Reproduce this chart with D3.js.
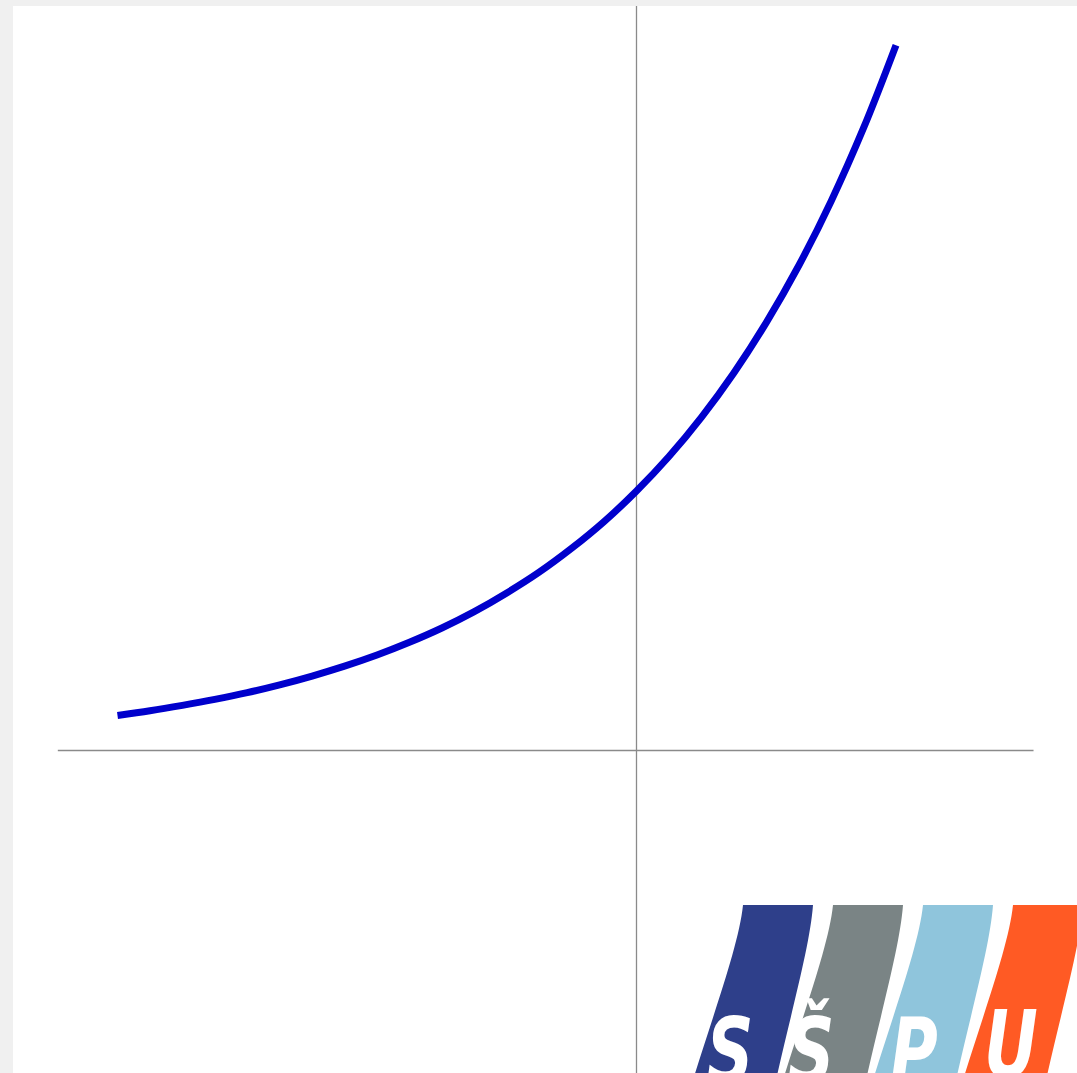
<!DOCTYPE html>
<html>
<head>
<meta charset="utf-8">
<script src="https://cdn.jsdelivr.net/npm/d3@7"></script>
<style>
  html, body { margin: 0; padding: 0; background: #f0f0f0; overflow: hidden; }
  svg { display: block; }
</style>
</head>
<body>
<script>
// ---- data (curve y = e^x) ----
const xValues = [-2, -1.875, -1.75, -1.625, -1.5, -1.375, -1.25, -1.125, -1, -0.875, -0.75, -0.625, -0.5,
                 -0.375, -0.25, -0.125, 0, 0.125, 0.25, 0.375, 0.5, 0.625, 0.75, 0.875, 1];
const yValues = [0.135, 0.153, 0.174, 0.197, 0.223, 0.253, 0.287, 0.325, 0.368, 0.417, 0.472, 0.535, 0.607,
                 0.687, 0.779, 0.882, 1, 1.133, 1.284, 1.455, 1.649, 1.868, 2.117, 2.399, 2.718];
const xAxisExtent = [-2.23, 1.53];
const yAxisExtent = [-1.4, 2.87];
const logoLetters = ["S", "Š", "P", "U"];
const logoColors = ["#2e3f8a", "#7a8485", "#8fc5dc", "#ff5a24"];

const W = 1077, H = 1073;
const svg = d3.select("body").append("svg").attr("width", W).attr("height", H);

svg.append("rect").attr("x", 0).attr("y", 0).attr("width", W).attr("height", H).attr("fill", "#f0f0f0");
svg.append("rect").attr("x", 13).attr("y", 6).attr("width", W - 13).attr("height", H - 6).attr("fill", "#ffffff");

// scales: 1 unit = 259.5 px on both axes, origin at (636.5, 750.5)
const unit = 259.5;
const x = d3.scaleLinear().domain([0, 1]).range([636.5, 636.5 + unit]);
const y = d3.scaleLinear().domain([0, 1]).range([750.5, 750.5 - unit]);

const clip = svg.append("defs").append("clipPath").attr("id", "plotclip");
clip.append("rect").attr("x", 13).attr("y", 6).attr("width", W - 13).attr("height", H - 6);

const g = svg.append("g").attr("clip-path", "url(#plotclip)");

// axes
g.append("line")
  .attr("x1", x(xAxisExtent[0])).attr("x2", x(xAxisExtent[1]))
  .attr("y1", y(0)).attr("y2", y(0))
  .attr("stroke", "#8a8a8a").attr("stroke-width", 1.3);
g.append("line")
  .attr("x1", x(0)).attr("x2", x(0))
  .attr("y1", y(yAxisExtent[1])).attr("y2", y(yAxisExtent[0]))
  .attr("stroke", "#8a8a8a").attr("stroke-width", 1.3);

// curve
const pts = xValues.map((v, i) => [v, yValues[i]]);
const line = d3.line().x(d => x(d[0])).y(d => y(d[1])).curve(d3.curveCatmullRom.alpha(0.5));
g.append("path").datum(pts)
  .attr("d", line)
  .attr("fill", "none")
  .attr("stroke", "#0000cc")
  .attr("stroke-width", 7)
  .attr("stroke-linecap", "butt");

// logo (decorative)
const logo = g.append("g").attr("transform", "translate(743,905)");
const letterCx = [-13, 68, 171, 268];
logoColors.forEach((c, i) => {
  const ox = i * 90;
  const d = `M${ox},0 L${ox + 70},0 C${ox + 67},40 ${ox + 50},100 ${ox + 33},175 L${ox - 50},175 C${ox - 30},110 ${ox - 4},40 ${ox},0 Z`;
  logo.append("path").attr("d", d).attr("fill", c);
});
logoLetters.forEach((t, i) => {
  logo.append("text")
    .attr("transform", `translate(${letterCx[i]},${i === 3 ? 172 : 178}) scale(0.8,1)`)
    .attr("text-anchor", "middle")
    .attr("font-family", "'DejaVu Sans Condensed', 'DejaVu Sans', sans-serif")
    .attr("font-weight", "bold")
    .attr("font-style", "italic")
    .attr("font-size", i === 3 ? 92 : 90)
    .attr("fill", "#ffffff")
    .text(t);
});
</script>
</body>
</html>
